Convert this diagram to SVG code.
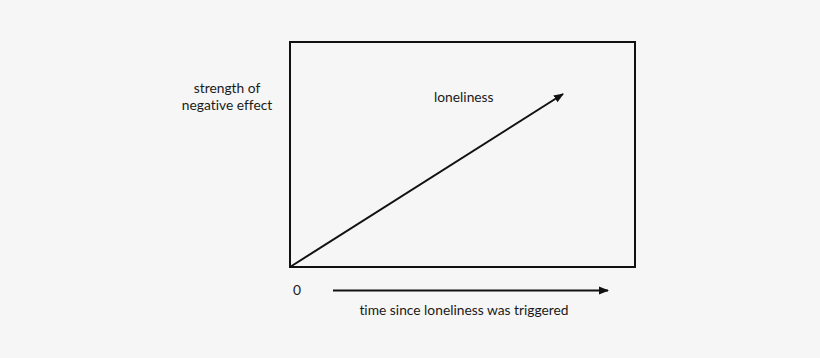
<svg xmlns="http://www.w3.org/2000/svg" width="820" height="358" viewBox="0 0 820 358">
<style>
text{font-family:Lato,"Open Sans",sans-serif;font-size:13.8px;fill:#1a1a1a;font-variant-ligatures:none}
.ln{stroke:#111;stroke-width:2;fill:none}
</style>
<defs>
<marker id="ah" viewBox="0 0 10 10" refX="9" refY="5" markerWidth="5" markerHeight="5" orient="auto" markerUnits="strokeWidth">
<path d="M0,1 L10,5 L0,9 Z" fill="#111"/>
</marker>
</defs>
<rect width="820" height="358" fill="#f6f6f6"/>
<g id="plot">
<rect x="290" y="42" width="345" height="225" class="ln"/>
</g>
<g id="labels">
<text x="227" y="93" text-anchor="middle">strength of</text>
<text x="227" y="110" text-anchor="middle">negative effect</text>
<text x="434" y="102">loneliness</text>
<text x="297" y="295" text-anchor="middle">0</text>
<text x="464" y="315" text-anchor="middle">time since loneliness was triggered</text>
</g>
<g id="connectors">
<line x1="290" y1="267" x2="563" y2="94" class="ln" marker-end="url(#ah)"/>
<line x1="333" y1="290.5" x2="608" y2="290.5" class="ln" marker-end="url(#ah)"/>
</g>
</svg>
